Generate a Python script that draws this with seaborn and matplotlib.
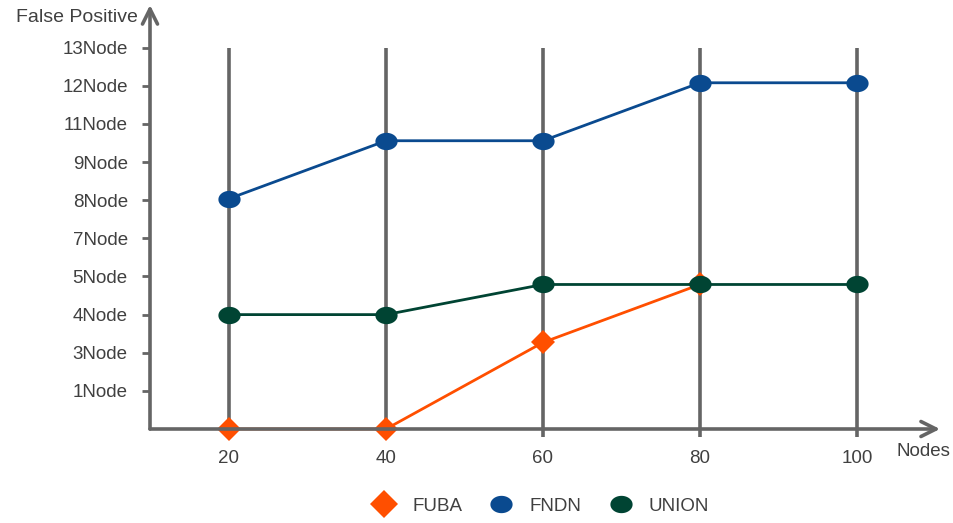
import pandas as pd
import numpy as np
import matplotlib
matplotlib.use("Agg")
import matplotlib.pyplot as plt
import seaborn as sns
from matplotlib.lines import Line2D
from matplotlib.path import Path

# ===========================
# Data
# ===========================
nodes = [20, 40, 60, 80, 100]
y_labels = ["1Node", "3Node", "4Node", "5Node", "7Node",
            "8Node", "9Node", "11Node", "12Node", "13Node"]
# values are positions on the (evenly spaced) label axis, 0 = baseline
fuba = [0, 0, 2.27, 3.79]
fndn = [6.04, 7.56, 7.56, 9.08, 9.08]
union = [3.0, 3.0, 3.79, 3.79, 3.79]

series_names = ["FUBA", "FNDN", "UNION"]
colors = {"FUBA": "#FF4F00", "FNDN": "#0A4A8F", "UNION": "#004433"}

# slightly flattened circle, like the reference markers
t = np.linspace(0, 2 * np.pi, 60)
ellipse = Path(np.column_stack([np.cos(t), 0.78 * np.sin(t)]), closed=True)
markers = {"FUBA": "D", "FNDN": ellipse, "UNION": ellipse}
msize = {"FUBA": 12, "FNDN": 16, "UNION": 16}

df = pd.concat([
    pd.DataFrame({"Nodes": nodes[:len(fuba)], "value": fuba, "series": "FUBA"}),
    pd.DataFrame({"Nodes": nodes, "value": fndn, "series": "FNDN"}),
    pd.DataFrame({"Nodes": nodes, "value": union, "series": "UNION"}),
])

# ===========================
# Style
# ===========================
sns.set_theme(style="white")
plt.rcParams["font.family"] = ["Liberation Sans", "DejaVu Sans"]
grey = "#656565"
text_col = "#404040"
fs = 13.5

fig = plt.figure(figsize=(9.54, 5.23), dpi=100)
ax = fig.add_axes([150 / 954, (523 - 429) / 523, (940 - 150) / 954, (429 - 5) / 523])

x0 = 20 - 79 / 157 * 20
x1 = 20 + (940 - 229) / 157 * 20
ymax = (429 - 5) / 38.13
ax.set_xlim(x0, x1)
ax.set_ylim(0, ymax)

# vertical grid lines at each node count
ax.vlines(nodes, -0.2, len(y_labels), color=grey, lw=2.6, zorder=1, clip_on=False)

for name in series_names:
    sub = df[df["series"] == name]
    sns.lineplot(data=sub, x="Nodes", y="value", ax=ax, color=colors[name],
                 marker=markers[name], markersize=msize[name],
                 markeredgewidth=0, lw=2, zorder=3, clip_on=False, legend=False)

# axes with arrows
for s in ["top", "right", "left", "bottom"]:
    ax.spines[s].set_visible(False)
arrow = dict(arrowstyle="->,head_length=0.9,head_width=0.45",
             color=grey, lw=2.6, shrinkA=0, shrinkB=0)
ax.annotate("", xy=(x0, ymax), xytext=(x0, 0), arrowprops=arrow, annotation_clip=False)
ax.annotate("", xy=(x1, 0), xytext=(x0, 0), arrowprops=arrow, annotation_clip=False)

ax.set_yticks(np.arange(1, len(y_labels) + 1))
ax.set_yticklabels(y_labels)
ax.set_xticks(nodes)
ax.set_xticklabels([str(n) for n in nodes])
ax.tick_params(axis="y", length=6, width=2, color=grey, pad=10,
               labelsize=fs, labelcolor=text_col, left=True)
ax.tick_params(axis="x", length=0, pad=15, labelsize=fs, labelcolor=text_col)
ax.set_xlabel("")
ax.set_ylabel("")
ax.grid(False)

fig.text(138 / 954, 1 - 18 / 523, "False Positive", ha="right", va="center",
         fontsize=fs + 0.5, color=text_col)
fig.text(897 / 954, 1 - 452 / 523, "Nodes", ha="left", va="center",
         fontsize=fs, color=text_col)

handles = [Line2D([], [], ls="none", marker=markers[n], color=colors[n],
                  markersize=14 if n == "FUBA" else 16, markeredgewidth=0)
           for n in series_names]
fig.legend(handles, series_names, loc="center", bbox_to_anchor=(541 / 954, 1 - 506 / 523),
           ncol=3, frameon=False, fontsize=fs, labelcolor=text_col,
           handlelength=1.2, handletextpad=0.9, columnspacing=1.5)

fig.savefig("out.png", dpi=100, facecolor="white")
